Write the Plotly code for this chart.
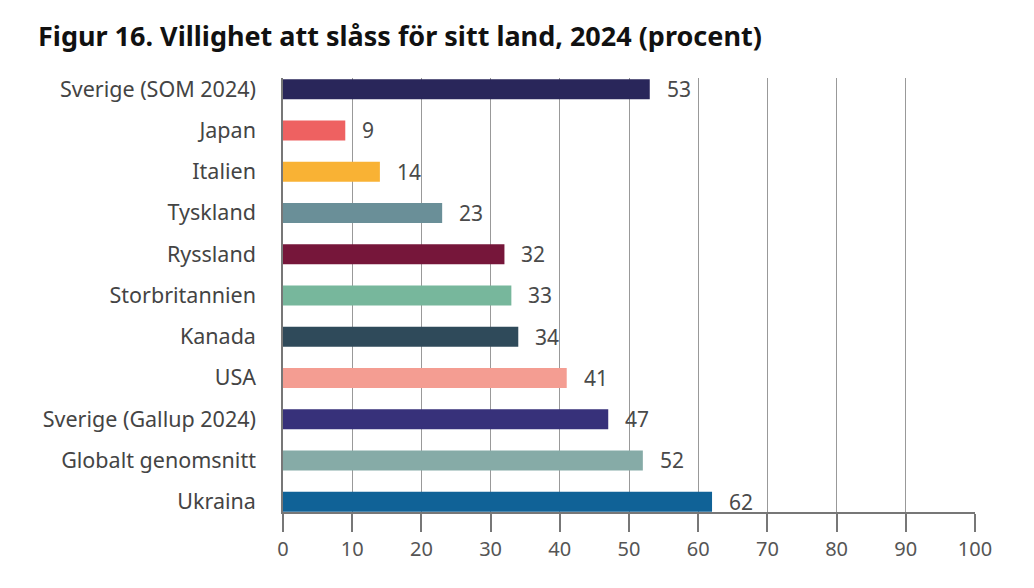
import plotly.graph_objects as go

categories = ["Sverige (SOM 2024)", "Japan", "Italien", "Tyskland", "Ryssland",
              "Storbritannien", "Kanada", "USA", "Sverige (Gallup 2024)",
              "Globalt genomsnitt", "Ukraina"]
values = [53, 9, 14, 23, 32, 33, 34, 41, 47, 52, 62]
colors = ["#29265a", "#ee6161", "#f9b234", "#6a8f98", "#76163a", "#77b79c",
          "#2f4a5a", "#f49d92", "#37317a", "#86aba7", "#106297"]
x_ticks = list(range(0, 101, 10))
title = "Figur 16. Villighet att slåss för sitt land, 2024 (procent)"

FONT = "Noto Sans"

fig = go.Figure()
fig.add_trace(go.Bar(
    y=categories, x=values, orientation="h",
    marker=dict(color=colors, line=dict(width=0)),
    width=0.485,
    hoverinfo="x+y",
))

for c, v in zip(categories, values):
    fig.add_annotation(x=v, y=c, text=str(v), showarrow=False,
                       xanchor="left", xshift=15,
                       font=dict(family=FONT, size=21, color="#4a4a4a"))

fig.update_layout(
    width=1026, height=580,
    margin=dict(l=275, r=59, t=70, b=76),
    paper_bgcolor="white", plot_bgcolor="white",
    showlegend=False,
    title=dict(text="<b>" + title + "</b>", x=30 / 1026, xref="container",
               xanchor="left", y=1 - 29 / 580, yref="container", yanchor="middle",
               font=dict(family=FONT, size=27, color="#111111")),
    bargap=0.5,
)

fig.update_xaxes(
    range=[0, 100], tickvals=x_ticks, ticktext=[str(t) for t in x_ticks],
    showgrid=True, gridcolor="#999999", gridwidth=1,
    showline=True, linecolor="#777777", linewidth=1.5,
    ticks="outside", ticklen=18, tickcolor="#777777", tickwidth=1.5,
    tickfont=dict(family=FONT, size=20, color="#555555"),
    zeroline=False, fixedrange=True,
)
fig.update_yaxes(
    categoryorder="array", categoryarray=categories[::-1],
    range=[-0.25, 10.27],
    showgrid=False, showline=True, linecolor="#777777", linewidth=1.5,
    ticks="", ticklabelstandoff=21,
    tickfont=dict(family=FONT, size=21.5, color="#444444"),
    fixedrange=True,
)

fig.write_html("out.html")
